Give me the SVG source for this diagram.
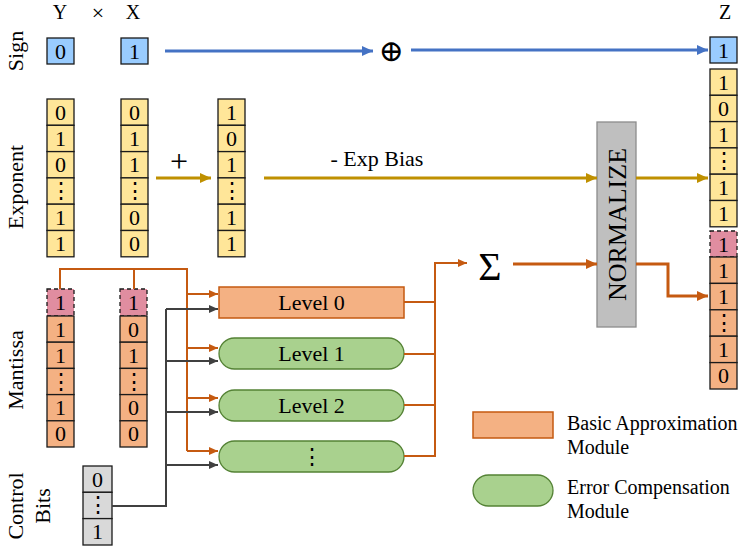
<svg xmlns="http://www.w3.org/2000/svg" width="742" height="550" viewBox="0 0 742 550">
<defs>
<style>
text{font-family:"Liberation Serif","DejaVu Serif",serif;fill:#000}
.c{stroke:#1a1a1a;stroke-width:1.3}
.sg{fill:#99ccff}
.ex{fill:#ffe699}
.mt{fill:#f4b183}
.hd{fill:#e08da0;stroke-dasharray:4 3}
.cb{fill:#d9d9d9}
.d{font-size:22px;text-anchor:middle}
.h{font-size:20px;text-anchor:middle}
.lab{font-size:22px;text-anchor:middle}
.blue{stroke:#4472c4;stroke-width:3;fill:none}
.gold{stroke:#bf9000;stroke-width:3;fill:none}
.or{stroke:#c55a11;stroke-width:2;fill:none}
.or3{stroke:#c55a11;stroke-width:3;fill:none}
.gr{stroke:#404040;stroke-width:2;fill:none}
.lvl{font-size:22px;text-anchor:middle}
.leg{font-size:20px}
</style>
<marker id="mb" markerUnits="userSpaceOnUse" markerWidth="12" markerHeight="10" refX="11" refY="5" orient="auto"><path d="M0,0 L11,5 L0,10 z" fill="#4472c4"/></marker>
<marker id="mg" markerUnits="userSpaceOnUse" markerWidth="12" markerHeight="10" refX="11" refY="5" orient="auto"><path d="M0,0 L11,5 L0,10 z" fill="#bf9000"/></marker>
<marker id="mo" markerUnits="userSpaceOnUse" markerWidth="12" markerHeight="10" refX="11" refY="5" orient="auto"><path d="M0,0 L11,5 L0,10 z" fill="#c55a11"/></marker>
<marker id="mos" markerUnits="userSpaceOnUse" markerWidth="9" markerHeight="8" refX="9" refY="4" orient="auto"><path d="M0,0 L9,4 L0,8 z" fill="#c55a11"/></marker>
<marker id="mgr" markerUnits="userSpaceOnUse" markerWidth="9" markerHeight="8" refX="9" refY="4" orient="auto"><path d="M0,0 L9,4 L0,8 z" fill="#404040"/></marker>
</defs>
<rect width="742" height="550" fill="#fff"/>

<g id="headers">
<text x="60" y="19" class="h">Y</text>
<text x="98" y="20" font-size="22" text-anchor="middle">×</text>
<text x="133" y="19" class="h">X</text>
<text x="725" y="19" class="h">Z</text>
</g>

<g id="row-labels">
<text class="lab" transform="translate(23,51) rotate(-90)">Sign</text>
<text class="lab" transform="translate(23,187) rotate(-90)">Exponent</text>
<text class="lab" transform="translate(23,370) rotate(-90)">Mantissa</text>
<text class="lab" transform="translate(23,506) rotate(-90)">Control</text>
<text class="lab" transform="translate(50,506) rotate(-90)">Bits</text>
</g>

<g id="sign-y"><rect class="c sg" x="47" y="38" width="27" height="26"/><text class="d" x="60.5" y="58.5">0</text></g>
<g id="sign-x"><rect class="c sg" x="121" y="38" width="27" height="26"/><text class="d" x="134.5" y="58.5">1</text></g>
<g id="sign-z"><rect class="c sg" x="710" y="37" width="27" height="26"/><text class="d" x="723.5" y="57.5">1</text></g>

<g id="exp-y">
<rect class="c ex" x="47" y="99" width="27" height="26.3"/><text class="d" x="60.5" y="119.5">0</text>
<rect class="c ex" x="47" y="125.3" width="27" height="26.3"/><text class="d" x="60.5" y="145.8">1</text>
<rect class="c ex" x="47" y="151.6" width="27" height="26.3"/><text class="d" x="60.5" y="172.1">0</text>
<rect class="c ex" x="47" y="177.9" width="27" height="26.3"/><text class="d" x="60.5" y="198">⋮</text>
<rect class="c ex" x="47" y="204.2" width="27" height="26.3"/><text class="d" x="60.5" y="224.7">1</text>
<rect class="c ex" x="47" y="230.5" width="27" height="26.3"/><text class="d" x="60.5" y="251">1</text>
</g>
<g id="exp-x">
<rect class="c ex" x="121" y="99" width="27" height="26.3"/><text class="d" x="134.5" y="119.5">0</text>
<rect class="c ex" x="121" y="125.3" width="27" height="26.3"/><text class="d" x="134.5" y="145.8">1</text>
<rect class="c ex" x="121" y="151.6" width="27" height="26.3"/><text class="d" x="134.5" y="172.1">1</text>
<rect class="c ex" x="121" y="177.9" width="27" height="26.3"/><text class="d" x="134.5" y="198">⋮</text>
<rect class="c ex" x="121" y="204.2" width="27" height="26.3"/><text class="d" x="134.5" y="224.7">0</text>
<rect class="c ex" x="121" y="230.5" width="27" height="26.3"/><text class="d" x="134.5" y="251">0</text>
</g>
<g id="exp-sum">
<rect class="c ex" x="218" y="99" width="27" height="26.3"/><text class="d" x="231.5" y="119.5">1</text>
<rect class="c ex" x="218" y="125.3" width="27" height="26.3"/><text class="d" x="231.5" y="145.8">0</text>
<rect class="c ex" x="218" y="151.6" width="27" height="26.3"/><text class="d" x="231.5" y="172.1">1</text>
<rect class="c ex" x="218" y="177.9" width="27" height="26.3"/><text class="d" x="231.5" y="198">⋮</text>
<rect class="c ex" x="218" y="204.2" width="27" height="26.3"/><text class="d" x="231.5" y="224.7">1</text>
<rect class="c ex" x="218" y="230.5" width="27" height="26.3"/><text class="d" x="231.5" y="251">1</text>
</g>
<g id="exp-z">
<rect class="c ex" x="710" y="69" width="27" height="26.3"/><text class="d" x="723.5" y="89.5">1</text>
<rect class="c ex" x="710" y="95.3" width="27" height="26.3"/><text class="d" x="723.5" y="115.8">0</text>
<rect class="c ex" x="710" y="121.6" width="27" height="26.3"/><text class="d" x="723.5" y="142.1">1</text>
<rect class="c ex" x="710" y="147.9" width="27" height="26.3"/><text class="d" x="723.5" y="168">⋮</text>
<rect class="c ex" x="710" y="174.2" width="27" height="26.3"/><text class="d" x="723.5" y="194.7">1</text>
<rect class="c ex" x="710" y="200.5" width="27" height="26.3"/><text class="d" x="723.5" y="221">1</text>
</g>

<g id="man-y">
<rect class="c hd" x="47" y="289" width="27" height="27"/><text class="d" x="60.5" y="310">1</text>
<rect class="c mt" x="47" y="316" width="27" height="26.2"/><text class="d" x="60.5" y="336.5">1</text>
<rect class="c mt" x="47" y="342.2" width="27" height="26.2"/><text class="d" x="60.5" y="362.7">1</text>
<rect class="c mt" x="47" y="368.4" width="27" height="26.2"/><text class="d" x="60.5" y="388.5">⋮</text>
<rect class="c mt" x="47" y="394.6" width="27" height="26.2"/><text class="d" x="60.5" y="415.1">1</text>
<rect class="c mt" x="47" y="420.8" width="27" height="26.2"/><text class="d" x="60.5" y="441.3">0</text>
</g>
<g id="man-x">
<rect class="c hd" x="120" y="289" width="27" height="27"/><text class="d" x="133.5" y="310">1</text>
<rect class="c mt" x="120" y="316" width="27" height="26.2"/><text class="d" x="133.5" y="336.5">0</text>
<rect class="c mt" x="120" y="342.2" width="27" height="26.2"/><text class="d" x="133.5" y="362.7">1</text>
<rect class="c mt" x="120" y="368.4" width="27" height="26.2"/><text class="d" x="133.5" y="388.5">⋮</text>
<rect class="c mt" x="120" y="394.6" width="27" height="26.2"/><text class="d" x="133.5" y="415.1">0</text>
<rect class="c mt" x="120" y="420.8" width="27" height="26.2"/><text class="d" x="133.5" y="441.3">0</text>
</g>
<g id="man-z">
<rect class="c hd" x="710" y="231" width="27" height="26"/><text class="d" x="723.5" y="251.5">1</text>
<rect class="c mt" x="710" y="257" width="27" height="26.4"/><text class="d" x="723.5" y="277.7">1</text>
<rect class="c mt" x="710" y="283.4" width="27" height="26.4"/><text class="d" x="723.5" y="304.1">1</text>
<rect class="c mt" x="710" y="309.8" width="27" height="26.4"/><text class="d" x="723.5" y="330">⋮</text>
<rect class="c mt" x="710" y="336.2" width="27" height="26.4"/><text class="d" x="723.5" y="356.9">1</text>
<rect class="c mt" x="710" y="362.6" width="27" height="26.4"/><text class="d" x="723.5" y="383.3">0</text>
</g>

<g id="control-bits">
<rect class="c cb" x="83" y="466" width="29" height="26.3"/><text class="d" x="97.5" y="486.5">0</text>
<rect class="c cb" x="83" y="492.3" width="29" height="26.3"/><text class="d" x="97.5" y="512.3">⋮</text>
<rect class="c cb" x="83" y="518.6" width="29" height="26.4"/><text class="d" x="97.5" y="539.1">1</text>
</g>

<g id="level0"><rect x="219" y="287" width="185" height="31" fill="#f4b183" stroke="#c55a11" stroke-width="1.5"/><text class="lvl" x="311.5" y="310">Level 0</text></g>
<g id="level1"><rect x="219" y="338" width="185" height="31" rx="15.5" fill="#a9d18e" stroke="#548235" stroke-width="1.3"/><text class="lvl" x="311.5" y="361">Level 1</text></g>
<g id="level2"><rect x="219" y="390" width="185" height="31" rx="15.5" fill="#a9d18e" stroke="#548235" stroke-width="1.3"/><text class="lvl" x="311.5" y="413">Level 2</text></g>
<g id="level-n"><rect x="219" y="441" width="185" height="31" rx="15.5" fill="#a9d18e" stroke="#548235" stroke-width="1.3"/><text class="lvl" x="311.5" y="464">⋮</text></g>

<g id="normalize"><rect x="597" y="122" width="39" height="205" fill="#bfbfbf" stroke="#8c8c8c" stroke-width="1.3"/><text transform="translate(626,224.5) rotate(-90)" font-size="26" text-anchor="middle" fill="#262626">NORMALIZE</text></g>

<g id="xor"><text x="391" y="61" font-size="30" text-anchor="middle" font-family="DejaVu Sans,sans-serif">⊕</text></g>
<g id="sum"><text x="490" y="280" font-size="40" text-anchor="middle">Σ</text></g>

<g id="connectors">
<path class="blue" d="M165,51 H373" marker-end="url(#mb)"/>
<path class="blue" d="M411,50 H708" marker-end="url(#mb)"/>
<path class="gold" d="M156,178 H211" marker-end="url(#mg)"/>
<text x="179" y="172" font-size="32" text-anchor="middle">+</text>
<path class="gold" d="M264,178 H597" marker-end="url(#mg)"/>
<text x="377" y="166" font-size="22" text-anchor="middle">- Exp Bias</text>
<path class="gold" d="M636,178 H708" marker-end="url(#mg)"/>
<path class="or" d="M60,289 V269 H187 V451"/>
<path class="or" d="M134,289 V269"/>
<path class="or" d="M187,294 H218" marker-end="url(#mos)"/>
<path class="or" d="M187,348 H218" marker-end="url(#mos)"/>
<path class="or" d="M187,398 H218" marker-end="url(#mos)"/>
<path class="or" d="M187,451 H218" marker-end="url(#mos)"/>
<path class="gr" d="M112,506 H166 V309"/>
<path class="gr" d="M166,309 H218" marker-end="url(#mgr)"/>
<path class="gr" d="M166,361 H218" marker-end="url(#mgr)"/>
<path class="gr" d="M166,412 H218" marker-end="url(#mgr)"/>
<path class="gr" d="M166,465 H218" marker-end="url(#mgr)"/>
<path class="or" d="M404,302 H435"/>
<path class="or" d="M404,354 H435"/>
<path class="or" d="M404,405 H435"/>
<path class="or" d="M404,456 H435 V263 H467" marker-end="url(#mos)"/>
<path class="or3" d="M513,264 H597" marker-end="url(#mo)"/>
<path class="or3" d="M636,264 H668 V296 H708" marker-end="url(#mo)"/>
</g>

<g id="legend">
<rect x="473" y="412" width="80" height="26" fill="#f4b183" stroke="#c55a11" stroke-width="1.5"/>
<text class="leg" x="567" y="430">Basic Approximation</text>
<text class="leg" x="567" y="454">Module</text>
<rect x="473" y="475" width="80" height="31" rx="15.5" fill="#a9d18e" stroke="#548235" stroke-width="1.3"/>
<text class="leg" x="567" y="494">Error Compensation</text>
<text class="leg" x="567" y="518">Module</text>
</g>
</svg>
